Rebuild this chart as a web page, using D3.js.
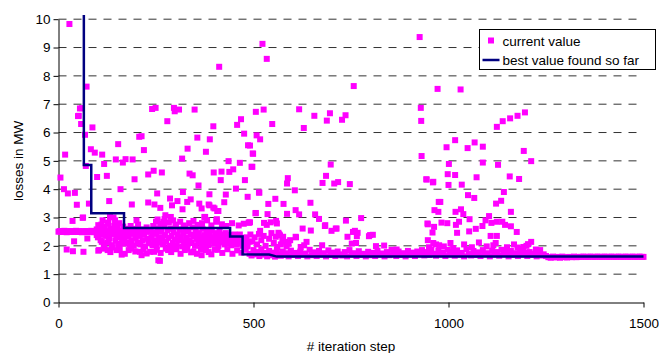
<!DOCTYPE html>
<html><head><meta charset="utf-8">
<script src="https://cdn.jsdelivr.net/npm/d3@7"></script>
<style>
html,body{margin:0;padding:0;background:#fff;}
svg{display:block;font-family:"Liberation Sans",Arial,sans-serif;}
</style></head>
<body>
<svg id="chart" width="659" height="353"></svg>
<script>
// ---------- DATA ----------
const xTicks = [0, 500, 1000, 1500];
const yTicks = [0,1,2,3,4,5,6,7,8,9,10];
const seriesNames = ["current value", "best value found so far"];

// current value: [iteration, loss in MW]
const currentEarlyBand = [[0,2.5],[3,2.52],[6,2.49],[9,2.51],[12,2.5],[15,2.53],[18,2.5],[21,2.48],[24,2.51],[27,2.5],[30,2.52],[33,2.49],[36,2.5],[39,2.51],[42,2.5],[45,2.53],[48,2.49],[51,2.5],[54,2.52],[57,2.5],[60,2.48],[63,2.51],[66,2.5],[69,2.52],[72,2.5],[75,2.49],[78,2.51],[81,2.5],[84,2.53],[87,2.5],[90,2.48],[93,2.51],[96,2.5],[99,2.52],[102,2.49],[105,2.5],[108,2.51],[111,2.5],[114,2.52],[117,2.49],[120,2.5],[124,2.51],[128,2.5],[132,2.49],[136,2.52],[140,2.5],[145,2.51],[150,2.48],[155,2.5],[160,2.52],[165,2.5],[170,2.49],[176,2.5],[182,2.51],[188,2.5],[194,2.48],[200,2.51],[206,2.5],[212,2.52],[218,2.49],[224,2.5],[230,2.51],[236,2.5],[242,2.48]];

const currentEarlyScatter = [[28,9.83],[17,5.22],[5,4.41],[72,7.62],[55,6.85],[52,6.59],[60,6.86],[50,6.58],[58,6.3],[68,5.92],[87,6.18],[83,5.41],[93,5.29],[112,5.22],[117,4.89],[70,4.82],[99,4.43],[124,4.47],[14,4.0],[24,3.85],[42,3.87],[47,3.45],[36,2.88],[62,2.99],[78,3.49],[130,3.58],[159,4.0],[153,5.59],[147,5.05],[165,4.94],[172,5.06],[190,5.05],[219,5.38],[207,5.85],[213,5.87],[230,4.52],[244,4.65],[265,4.59],[195,4.35],[240,6.83],[249,6.87],[279,6.4],[296,6.87],[298,6.75],[309,6.81],[349,6.81],[317,5.08],[331,5.43],[356,5.82],[397,6.22],[388,5.76],[378,5.32],[398,4.59],[336,4.55],[344,4.49],[412,8.32],[188,3.46],[200,2.9],[253,3.85],[230,3.53],[246,3.46],[261,3.34],[254,2.93],[269,2.85],[274,3.08],[288,3.02],[286,3.67],[291,3.43],[305,3.58],[319,3.9],[330,3.55],[339,3.64],[318,3.29],[359,4.13],[387,3.82],[361,3.49],[367,3.32],[387,3.43],[400,3.32],[407,3.23],[405,2.9],[376,3.02],[102,2.73],[113,2.9],[128,2.79],[145,2.9],[132,3.02],[141,3.0],[63,3.0],[21,1.87],[37,1.81],[64,1.79],[40,2.16],[74,2.26],[104,1.85],[126,1.85],[111,2.14],[129,2.17],[98,2.38],[106,2.44],[98,2.58],[138,1.94],[149,1.85],[154,1.96],[162,1.69],[168,2.08],[180,1.85],[209,1.79],[213,1.67],[235,1.79],[245,1.79],[256,1.49],[281,1.85],[296,1.96],[324,1.85],[340,1.77],[365,1.88],[367,1.67],[378,1.85],[401,1.87]];

const currentMidDense = [[101,2.3],[105,2.62],[108,2.2],[110,2.75],[114,2.4],[116,2.05],[119,2.68],[122,2.35],[125,2.12],[127,2.82],[131,2.28],[134,2.6],[137,2.02],[139,2.42],[143,2.7],[146,2.18],[148,2.36],[151,2.62],[153,2.07],[156,2.8],[158,2.3],[161,2.45],[163,2.15],[166,2.68],[169,2.25],[171,2.4],[174,2.1],[177,2.6],[179,2.32],[183,2.05],[185,2.7],[187,2.2],[191,2.42],[193,2.0],[196,2.6],[198,2.28],[202,2.12],[204,2.75],[208,2.35],[210,2.05],[214,2.58],[216,2.2],[220,2.4],[222,1.98],[226,2.65],[228,2.25],[232,2.1],[234,2.55],[238,2.3],[241,2.02],[243,2.7],[247,2.2],[250,2.42],[252,2.0],[255,2.62],[258,2.3],[260,2.12],[263,2.5],[266,2.25],[268,2.05],[271,2.72],[273,2.38],[276,2.15],[279,2.55],[282,2.28],[284,2.0],[287,2.6],[290,2.35],[293,2.1],[295,2.48],[298,2.22],[301,2.68],[303,2.02],[306,2.4],[309,2.2],[311,2.58],[314,2.3],[317,1.98],[320,2.45],[322,2.15],[325,2.62],[328,2.28],[331,2.05],[333,2.5],[336,2.2],[339,2.4],[342,2.1],[344,2.65],[347,2.32],[350,2.0],[352,2.52],[355,2.25],[358,2.12],[360,2.45],[363,2.3],[366,2.05],[369,2.6],[371,2.2],[374,2.38],[377,2.1],[380,2.5],[382,2.27],[385,2.02],[388,2.42],[391,2.18],[393,2.55],[396,2.3],[399,2.08],[402,2.45],[404,2.2],[407,2.35],[410,2.0],[413,2.5],[415,2.25],[418,2.12],[421,2.4],[424,2.22],[426,2.05],[429,2.45],[432,2.3],[435,2.1],[437,2.38],[440,2.2],[443,2.02],[446,2.35],[448,2.15],[451,2.4],[454,2.25],[457,2.05],[459,2.32],[462,2.18],[465,2.4],[468,2.1],[470,2.28],[473,2.0],[476,2.22],[479,2.08],[482,2.3],[485,1.98],[488,2.15],[250,2.85],[262,2.78],[272,2.95],[283,2.82],[294,2.9],[300,2.75],[312,2.85],[321,2.72],[335,2.8],[346,2.88],[357,2.74],[368,2.8],[381,2.9],[392,2.72],[405,2.85],[419,2.76],[430,2.7],[445,2.8],[462,2.72],[475,2.78],[488,2.82],[102,1.83],[118,1.9],[133,1.78],[157,1.88],[170,1.72],[186,1.9],[197,1.8],[218,1.88],[226,1.73],[252,1.86],[262,1.75],[275,1.9],[289,1.78],[302,1.88],[313,1.72],[330,1.9],[346,1.8],[355,1.72],[372,1.9],[385,1.78],[392,1.7],[408,1.86],[420,1.75],[433,1.88],[446,1.72],[458,1.84],[469,1.76],[480,1.86],[260,1.47]];

const currentMidScatter = [[506,6.73],[468,6.47],[458,6.27],[476,5.96],[508,5.9],[486,5.55],[498,5.26],[436,4.99],[465,4.93],[495,4.79],[418,4.62],[438,4.61],[448,4.7],[416,4.32],[478,4.32],[455,4.02],[429,3.81],[485,3.73],[514,3.88],[425,3.54],[385,3.46],[397,3.35],[410,3.23],[374,3.02],[406,2.94],[506,3.16],[488,2.82],[523,9.13],[534,8.6],[757,7.64],[926,9.37],[526,6.81],[617,6.82],[548,6.3],[656,6.59],[696,6.68],[688,6.42],[736,6.61],[727,6.45],[629,6.16],[517,5.76],[491,5.54],[499,5.25],[497,4.79],[698,4.87],[686,4.47],[588,4.39],[586,4.2],[606,3.96],[677,4.22],[707,4.2],[717,4.25],[747,4.18],[515,3.88],[556,3.66],[538,3.48],[577,3.48],[646,3.52],[505,3.15],[536,3.12],[617,3.11],[658,3.11],[668,2.95],[558,2.88],[527,2.81],[534,2.74],[491,2.83],[737,2.89],[776,2.98],[683,2.7],[711,2.61],[700,2.53],[626,2.61],[647,2.54],[517,2.53],[566,2.41],[576,2.32],[608,2.32],[594,2.2],[676,2.02],[630,2.02],[621,1.96],[755,2.49],[767,2.46],[741,2.32],[765,2.34],[752,2.08],[763,2.1],[796,2.34],[806,2.39],[608,3.26],[586,3.13],[544,2.83],[560,2.79],[684,2.73],[713,2.61],[760,2.53],[799,2.38],[582,2.14],[561,1.96],[609,2.3],[636,2.14],[564,2.46],[568,2.37],[492,2.4],[497,2.15],[503,2.3],[509,2.05],[514,2.42],[520,2.2],[526,2.35],[531,2.0],[540,2.25],[546,2.45],[552,2.1],[557,2.32],[570,2.05],[574,2.2],[585,1.98],[590,2.08],[814,1.99],[835,2.01],[867,1.87]];

const currentLateScatter = [[972,7.54],[1031,7.52],[929,6.87],[930,6.41],[1124,6.2],[1139,6.4],[1158,6.5],[1177,6.59],[1196,6.71],[931,5.17],[1017,5.73],[995,5.48],[1049,5.45],[1067,5.65],[1088,5.5],[1193,5.35],[1212,4.99],[1001,4.89],[1088,4.94],[1127,4.86],[998,4.53],[1017,4.5],[943,4.35],[960,4.24],[1000,4.15],[1034,4.16],[1072,4.42],[1157,4.45],[1181,4.36],[1050,3.79],[1066,3.69],[979,3.55],[964,3.26],[1142,3.9],[1122,3.49],[1135,3.59],[1160,3.2],[1018,3.2],[1032,3.29],[1038,3.12],[1054,2.94],[947,2.76],[963,2.67],[982,2.82],[997,2.8],[1019,2.74],[1027,2.85],[1022,2.46],[1053,2.51],[1070,2.6],[1087,2.7],[1095,2.9],[1104,3.05],[1110,2.81],[1124,2.85],[1138,2.85],[1145,2.74],[1160,2.69],[1175,2.49],[1108,2.35],[1124,2.35],[1121,2.1],[1212,2.14],[1204,2.06],[1192,1.96],[1224,1.87],[1177,1.94],[944,4.34],[961,4.26],[946,2.79],[959,2.47],[947,2.2],[961,2.1],[976,2.02],[975,3.55],[974,3.2],[950,1.95],[968,2.05],[988,1.98],[1005,2.1],[1012,1.92],[1040,2.05],[1060,1.95],[1078,2.12],[1098,1.98],[1115,2.02],[1150,1.95],[1168,2.05],[1185,1.9],[1200,2.0],[1235,1.85]];

const currentLowBand = [[490,1.72],[495,1.66],[500,1.85],[505,1.7],[510,1.78],[515,1.64],[520,1.88],[525,1.69],[530,1.75],[535,1.63],[540,1.82],[545,1.67],[550,1.76],[555,1.62],[560,1.86],[565,1.7],[570,1.65],[575,1.8],[580,1.68],[585,1.74],[590,1.63],[596,1.83],[602,1.68],[608,1.75],[614,1.64],[620,1.8],[626,1.69],[632,1.73],[638,1.63],[644,1.86],[650,1.67],[656,1.77],[662,1.64],[668,1.82],[674,1.69],[680,1.74],[686,1.63],[692,1.84],[698,1.68],[704,1.76],[710,1.64],[716,1.8],[722,1.7],[728,1.66],[734,1.78],[740,1.63],[746,1.85],[752,1.69],[758,1.74],[764,1.64],[770,1.81],[776,1.68],[782,1.72],[788,1.63],[794,1.79],[800,1.67],[806,1.75],[812,1.64],[818,1.83],[824,1.69],[830,1.73],[836,1.63],[842,1.78],[848,1.67],[854,1.86],[860,1.7],[866,1.64],[872,1.8],[878,1.68],[884,1.74],[890,1.63],[896,1.82],[902,1.69],[908,1.76],[914,1.64],[920,1.8],[926,1.7],[932,1.85],[938,1.66],[944,1.78],[950,1.68],[956,1.88],[962,1.72],[968,1.65],[974,1.82],[980,1.7],[986,1.76],[992,1.64],[998,1.86],[1004,1.7],[1010,1.78],[1016,1.65],[1022,1.84],[1028,1.69],[1034,1.75],[1040,1.63],[1046,1.88],[1052,1.71],[1058,1.66],[1064,1.82],[1070,1.68],[1076,1.77],[1082,1.64],[1088,1.85],[1094,1.7],[1100,1.74],[1106,1.63],[1112,1.83],[1118,1.69],[1124,1.78],[1130,1.65],[1136,1.86],[1142,1.7],[1148,1.75],[1154,1.63],[1160,1.82],[1166,1.68],[1172,1.74],[1178,1.64],[1184,1.8],[1190,1.69],[1196,1.76],[1202,1.64],[1208,1.78],[1214,1.68],[1220,1.72],[1226,1.63],[1232,1.75],[1238,1.66],[1244,1.7],[1250,1.64]];

const currentTail = [[1256,1.6],[1262,1.58],[1268,1.62],[1274,1.59],[1280,1.61],[1286,1.58],[1292,1.62],[1298,1.6],[1304,1.59],[1310,1.61],[1316,1.6],[1322,1.62],[1328,1.6],[1334,1.61],[1340,1.61],[1346,1.62],[1352,1.61],[1358,1.61],[1364,1.62],[1370,1.61],[1376,1.61],[1382,1.62],[1388,1.61],[1394,1.61],[1400,1.62],[1406,1.61],[1412,1.61],[1418,1.62],[1424,1.61],[1430,1.61],[1436,1.62],[1442,1.61],[1448,1.61],[1454,1.62],[1460,1.61],[1466,1.61],[1472,1.62],[1478,1.61],[1484,1.61],[1490,1.62],[1496,1.61],[1500,1.61]];

// best value found so far: [iteration, loss in MW]
const bestSoFar = [[65,10.15],[65,4.85],[84,4.85],[84,3.15],[168,3.15],[168,2.63],[440,2.63],[440,2.33],[472,2.33],[472,1.70],[540,1.69],[560,1.62],[1500,1.62]];

// ---------- CHART ----------
const svg = d3.select("#chart");
const x = d3.scaleLinear().domain([0,1500]).range([58.5,643.5]);
const y = d3.scaleLinear().domain([0,10]).range([302.5,19.2]);
const MAGENTA = "#FF00FF", NAVY = "#000080";

// gridlines
svg.append("g").selectAll("line").data(yTicks.filter(d=>d>0)).join("line")
  .attr("x1", x(0)).attr("x2", x(1500))
  .attr("y1", d=>y(d)).attr("y2", d=>y(d))
  .attr("stroke", "#333").attr("stroke-width", 1)
  .attr("stroke-dasharray", "8,7");

// y axis
const yAxis = svg.append("g").attr("transform", `translate(${x(0)},0)`)
  .call(d3.axisLeft(y).tickValues(yTicks).tickFormat(d3.format("d")).tickSize(5).tickPadding(3).tickSizeOuter(0));
// x axis
const xAxis = svg.append("g").attr("transform", `translate(0,${y(0)})`)
  .call(d3.axisBottom(x).tickValues(xTicks).tickFormat(d3.format("d")).tickSize(5).tickPadding(11).tickSizeOuter(0));
[yAxis, xAxis].forEach(g => {
  g.select(".domain").attr("stroke", "#000");
  g.selectAll(".tick line").attr("stroke", "#000");
  g.selectAll(".tick text").attr("fill", "#000")
    .style("font-family", '"Liberation Sans", Arial, sans-serif').style("font-size", "13.5px");
});

// points
const allCurrent = [].concat(currentEarlyBand, currentMidDense, currentLowBand, currentTail,
                             currentEarlyScatter, currentMidScatter, currentLateScatter);
const S = 6;
svg.append("g").selectAll("rect").data(allCurrent).join("rect")
  .attr("x", d=>x(d[0])-S/2).attr("y", d=>y(d[1])-S/2)
  .attr("width", S).attr("height", S).attr("fill", MAGENTA);

// best line
svg.append("path").datum(bestSoFar)
  .attr("d", d3.line().x(d=>x(d[0])).y(d=>y(d[1])))
  .attr("fill", "none").attr("stroke", NAVY).attr("stroke-width", 2.5)
  .attr("stroke-linejoin", "miter");

// axis titles
svg.append("text").attr("x", (x(0)+x(1500))/2).attr("y", 351)
  .attr("text-anchor", "middle").style("font-size", "13.5px").text("# iteration step");
svg.append("text").attr("transform", `translate(22.5,${(y(0)+y(10))/2}) rotate(-90)`)
  .attr("text-anchor", "middle").style("font-size", "13.5px").text("losses in MW");

// legend
const lg = svg.append("g");
lg.append("rect").attr("x", 479.5).attr("y", 29.5).attr("width", 176).attr("height", 40)
  .attr("fill", "#fff").attr("stroke", "#000").attr("stroke-width", 1);
lg.append("rect").attr("x", 491-S/2).attr("y", 40.5-S/2).attr("width", S).attr("height", S).attr("fill", MAGENTA);
lg.append("line").attr("x1", 482.5).attr("x2", 499.5).attr("y1", 60).attr("y2", 60)
  .attr("stroke", NAVY).attr("stroke-width", 2.5);
lg.append("text").attr("x", 502.5).attr("y", 45.5).style("font-size", "13.5px").text(seriesNames[0]);
lg.append("text").attr("x", 502.5).attr("y", 65).style("font-size", "13.5px").text(seriesNames[1]);
</script>
</body></html>
